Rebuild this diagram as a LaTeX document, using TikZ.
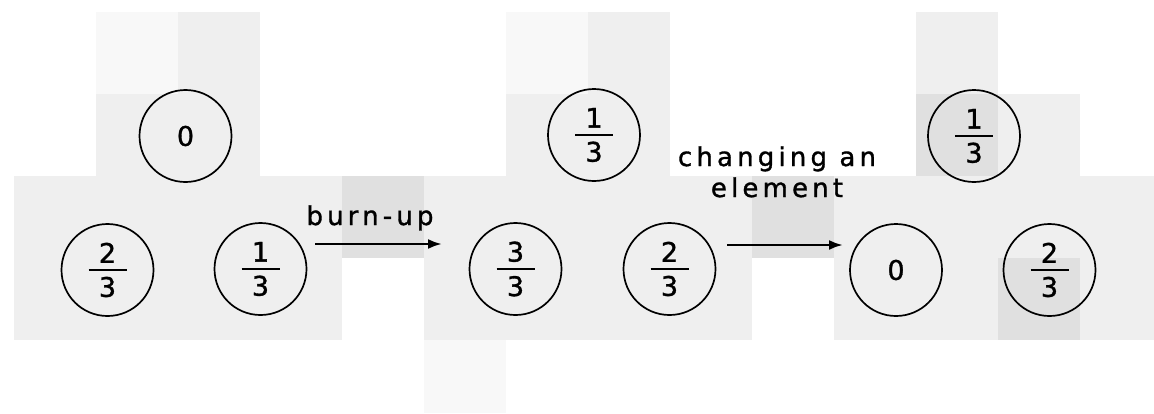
\documentclass[tikz,border=0pt]{standalone}
\usepackage{fontspec}
\setmainfont[FakeBold=1.2]{DejaVu Sans}
\newfontfamily\labfont[LetterSpace=16,FakeBold=1.2]{DejaVu Sans}
\usetikzlibrary{arrows.meta}
\definecolor{tileA}{HTML}{EFEFEF}
\definecolor{tileB}{HTML}{F8F8F8}
\definecolor{tileC}{HTML}{E0E0E0}
\newcommand\fr[2]{\vbox{\hbox to 38pt{\hfil#1\hfil}\kern6pt\hrule height 2pt\kern6pt\hbox to 38pt{\hfil#2\hfil}}}
\tikzset{
  fuel/.style={circle, draw, line width=1.7pt, minimum size=92pt, inner sep=0pt,
    font=\fontsize{27}{30}\selectfont},
  lab/.style={font=\labfont\fontsize{26}{31}\selectfont, inner sep=0pt, align=center},
  move/.style={line width=2.5pt, -{Latex[length=14pt,width=10pt]}}
}
\begin{document}
\begin{tikzpicture}[x=1pt,y=-1pt]
\useasboundingbox (0,0) rectangle (1154,413);
% background tiles
\fill[tileB] (96,12) rectangle (178,94);
\fill[tileA] (178,12) rectangle (260,94);
\fill[tileA] (96,94) rectangle (260,176);
\fill[tileA] (14,176) rectangle (342,340);
\fill[tileC] (342,176) rectangle (424,258);
\fill[tileB] (506,12) rectangle (588,94);
\fill[tileA] (588,12) rectangle (670,94);
\fill[tileA] (506,94) rectangle (670,176);
\fill[tileA] (424,176) rectangle (752,340);
\fill[tileC] (752,176) rectangle (834,258);
\fill[tileB] (424,340) rectangle (506,413);
\fill[tileA] (916,12) rectangle (998,94);
\fill[tileC] (916,94) rectangle (998,176);
\fill[tileA] (998,94) rectangle (1080,176);
\fill[tileA] (834,176) rectangle (1154,340);
\fill[tileC] (998,258) rectangle (1080,340);
% group 1
\node[fuel] (a1) at (185.5,136) {0};
\node[fuel] (a2) at (107.5,270) {\fr{2}{3}};
\node[fuel] (a3) at (260.5,269) {\fr{1}{3}};
% group 2
\node[fuel] (b1) at (594,135) {\fr{1}{3}};
\node[fuel] (b2) at (515.5,269) {\fr{3}{3}};
\node[fuel] (b3) at (669.5,269) {\fr{2}{3}};
% group 3
\node[fuel] (c1) at (974,136) {\fr{1}{3}};
\node[fuel] (c2) at (896,270) {0};
\node[fuel] (c3) at (1049.5,270) {\fr{2}{3}};
% arrows
\coordinate (p1s) at (315,244);
\coordinate (p1e) at (442,244);
\coordinate (p2s) at (727,245);
\coordinate (p2e) at (843,245);
\draw[move] (p1s) -- (p1e);
\draw[move] (p2s) -- (p2e);
\node[lab, anchor=base] (l1) at (370,225) {burn-up};
\node[lab, anchor=base] (l2) at (777,197) {changing an\\element};
\end{tikzpicture}
\end{document}
